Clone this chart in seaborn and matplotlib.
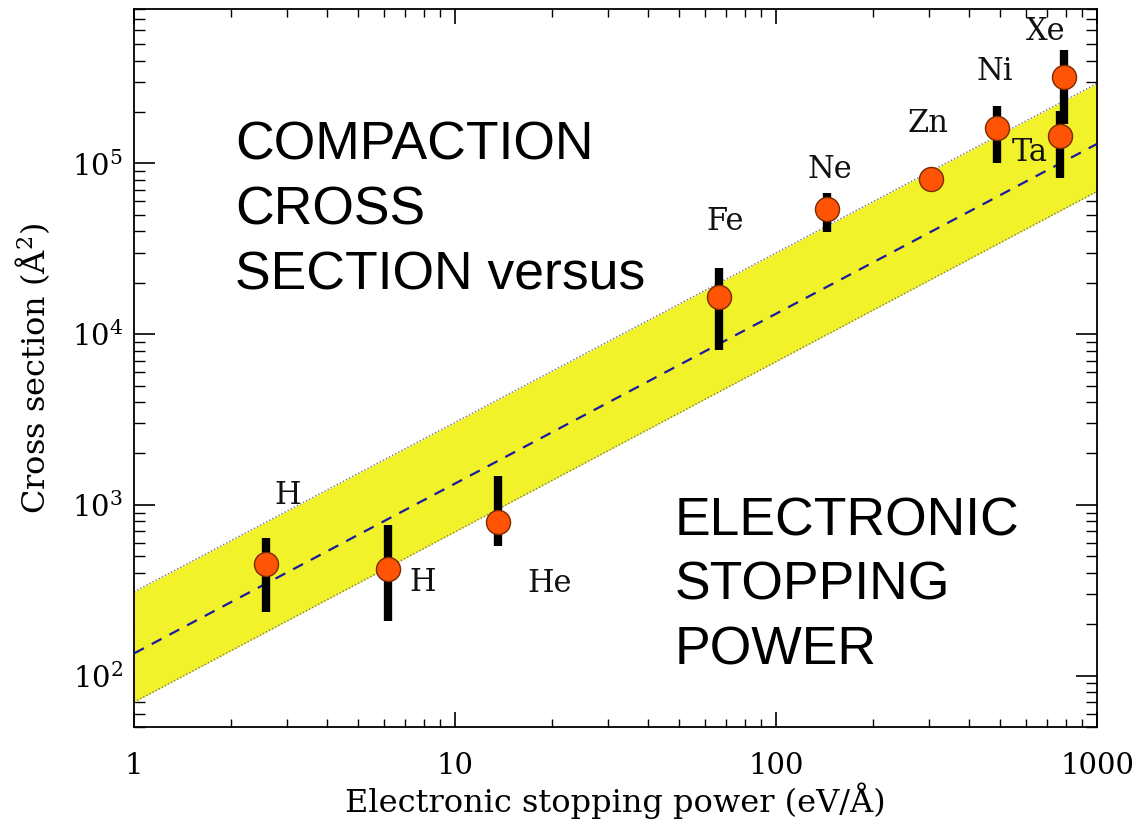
import numpy as np
import matplotlib
matplotlib.use("Agg")
import matplotlib.pyplot as plt
import seaborn as sns
import pandas as pd

# measured points (stopping power in eV/A, cross section in A^2)
ions = ["H", "H", "He", "Fe", "Ne", "Zn", "Ni", "Xe", "Ta"]
stopping = [2.57, 6.2, 13.6, 66.6, 144.5, 304, 487, 791, 767]
sigma = [452, 422, 798, 16400, 53800, 80600, 162000, 321000, 144000]
sigma_lo = [237, 210, 578, 8090, 39600, 70000, 100000, 169000, 81700]
sigma_hi = [644, 764, 1479, 24500, 67400, 92000, 218000, 464000, 202000]

# fitted line and band, read at x = 1 and x = 1000
fit_x = [1, 1000]
fit_y = [135, 130000]
band_lo = [70, 68500]
band_hi = [310, 294000]

# label offsets in pixels from each point
label_offsets = [(22, 68), (34, -14), (52, -62), (6, 76), (3, 40),
                 (-3, 56), (-2, 56), (-19, 45), (-30, -16)]

sns.set_theme(style="ticks")
plt.rcParams["font.family"] = ["DejaVu Serif"]
plt.rcParams["mathtext.fontset"] = "dejavuserif"
plt.rcParams["text.color"] = "black"
plt.rcParams["axes.labelcolor"] = "black"
plt.rcParams["xtick.labelcolor"] = "black"
plt.rcParams["ytick.labelcolor"] = "black"

df = pd.DataFrame({"ion": ions, "S": stopping, "sigma": sigma,
                   "lo": sigma_lo, "hi": sigma_hi})

fig = plt.figure(figsize=(11.38, 8.3), dpi=100)
ax = fig.add_axes([0.1178, 0.124, 0.964 - 0.1178, 0.989 - 0.124])
ax.set_xscale("log")
ax.set_yscale("log")

# band
ax.fill_between(fit_x, band_lo, band_hi, color="#f2f22a", lw=0, zorder=1)
ax.plot(fit_x, band_lo, ls=(0, (1, 1.5)), color="#777777", lw=1, zorder=2)
ax.plot(fit_x, band_hi, ls=(0, (1, 1.5)), color="#777777", lw=1, zorder=2)
sns.lineplot(x=fit_x, y=fit_y, ax=ax, color="#1a1aa0", lw=1.6,
             linestyle=(0, (5, 4)), zorder=3)

# error bars and points
ax.vlines(df["S"], df["lo"], df["hi"], color="black", lw=6, zorder=4)
sns.scatterplot(data=df, x="S", y="sigma", ax=ax, s=300, color="#ff5306",
                edgecolor="#7a2a00", linewidth=1.0, zorder=5, legend=False)

for (name, xv, yv), off in zip(zip(ions, stopping, sigma), label_offsets):
    ax.annotate(name, (xv, yv), xytext=off, textcoords="offset pixels",
                ha="center", va="center", fontsize=22, color="#111111")

ax.set_xlim(1, 1000)
ax.set_ylim(50, 8.0e5)
ax.set_xlabel("Electronic stopping power (eV/Å)", fontsize=23, labelpad=2)
ax.set_ylabel("Cross section (Å$^{2}$)", fontsize=23, labelpad=14)

ax.tick_params(which="both", direction="in", top=True, right=True,
               labelsize=21, color="black")
ax.tick_params(axis="x", which="major", length=11, width=1.2, pad=18)
ax.tick_params(axis="x", which="minor", length=6, width=1.0)
ax.tick_params(axis="y", which="major", length=15, width=1.2, pad=8)
ax.tick_params(axis="y", which="minor", length=8, width=1.0)
ax.xaxis.set_major_formatter(matplotlib.ticker.FuncFormatter(lambda v, p: f"{v:g}"))
for sp in ax.spines.values():
    sp.set_linewidth(1.3)
    sp.set_color("black")

# overlay text
fig.text(235 / 1138, 1 - 121 / 830, "COMPACTION\nCROSS\nSECTION versus",
         family="Liberation Sans", fontsize=38.5, va="top", ha="left",
         linespacing=1.38, color="black")
fig.text(675 / 1138, 1 - 496 / 830, "ELECTRONIC\nSTOPPING\nPOWER",
         family="Liberation Sans", fontsize=38.5, va="top", ha="left",
         linespacing=1.38, color="black")

fig.savefig("out.png", dpi=100)
